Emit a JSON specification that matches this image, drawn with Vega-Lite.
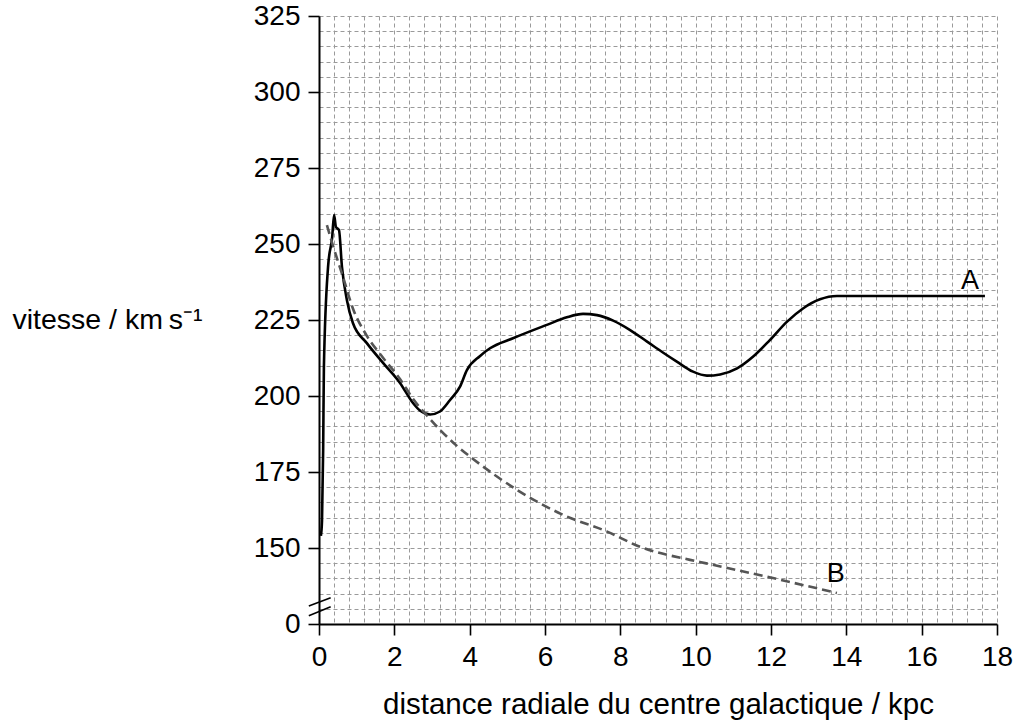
{
  "$schema": "https://vega.github.io/schema/vega-lite/v6.json",
  "width": 678,
  "height": 608,
  "autosize": {"type": "none"},
  "padding": {"left": 319, "top": 16, "right": 26, "bottom": 97},
  "background": "white",
  "config": {"view": {"stroke": null}, "font": "Liberation Sans"},
  "datasets": {
    "curveA": [
      {"x": 0.05, "v": 154}, {"x": 0.08, "v": 159}, {"x": 0.11, "v": 182}, {"x": 0.13, "v": 209.5},
      {"x": 0.24, "v": 242.4}, {"x": 0.35, "v": 252.3}, {"x": 0.40, "v": 259.5}, {"x": 0.45, "v": 255.6},
      {"x": 0.53, "v": 254.6}, {"x": 0.61, "v": 242.4}, {"x": 0.74, "v": 231.6}, {"x": 0.90, "v": 224},
      {"x": 1.27, "v": 217.4}, {"x": 1.70, "v": 210.9}, {"x": 2.15, "v": 204.3}, {"x": 2.50, "v": 197.6},
      {"x": 2.68, "v": 195.2}, {"x": 2.95, "v": 193.9}, {"x": 3.21, "v": 194.9}, {"x": 3.48, "v": 198.7},
      {"x": 3.74, "v": 203}, {"x": 3.93, "v": 208.6}, {"x": 4.27, "v": 213.1}, {"x": 4.54, "v": 215.7},
      {"x": 5.15, "v": 219.0}, {"x": 6.05, "v": 223.4}, {"x": 6.58, "v": 225.9}, {"x": 7.01, "v": 227.0},
      {"x": 7.38, "v": 226.6}, {"x": 7.81, "v": 224.8}, {"x": 8.26, "v": 221.7}, {"x": 8.71, "v": 217.9},
      {"x": 9.13, "v": 214.3}, {"x": 9.50, "v": 211.3}, {"x": 9.93, "v": 208.0}, {"x": 10.30, "v": 206.7},
      {"x": 10.65, "v": 207.1}, {"x": 11.10, "v": 209.1}, {"x": 11.52, "v": 212.9}, {"x": 11.97, "v": 218.4},
      {"x": 12.42, "v": 224.4}, {"x": 12.85, "v": 228.8}, {"x": 13.30, "v": 231.8}, {"x": 13.75, "v": 232.9},
      {"x": 14.36, "v": 232.9}, {"x": 17.68, "v": 232.9}
    ],
    "curveB": [
      {"x": 0.21, "v": 256.2}, {"x": 0.35, "v": 250.3}, {"x": 0.64, "v": 239.1}, {"x": 0.90, "v": 228.8},
      {"x": 1.27, "v": 219.8}, {"x": 1.70, "v": 212.6}, {"x": 2.15, "v": 205.6}, {"x": 2.50, "v": 199.0},
      {"x": 2.87, "v": 193.5}, {"x": 3.21, "v": 188.9}, {"x": 3.66, "v": 183.6}, {"x": 4.09, "v": 179.3},
      {"x": 5.26, "v": 169.1}, {"x": 6.48, "v": 160.9}, {"x": 7.65, "v": 155.4}, {"x": 8.52, "v": 150.4},
      {"x": 9.85, "v": 146.1}, {"x": 10.11, "v": 145.4}, {"x": 12.05, "v": 140.1}, {"x": 13.75, "v": 135.2}
    ],
    "breaks": [
      {"x": -0.27, "v": 130.9, "x2": 0.31, "v2": 133.6},
      {"x": -0.27, "v": 127.7, "x2": 0.31, "v2": 130.7}
    ],
    "labels": [
      {"x": 17.28, "v": 237.8, "label": "A"},
      {"x": 13.72, "v": 141.4, "label": "B"}
    ]
  },
  "resolve": {"axis": {"x": "independent", "y": "independent"}},
  "layer": [
    {
      "data": {"name": "curveA"},
      "mark": {"type": "line", "color": "black", "strokeWidth": 2.6, "interpolate": "monotone"},
      "encoding": {
        "x": {
          "field": "x", "type": "quantitative",
          "scale": {"domain": [0, 18], "nice": false, "zero": false},
          "axis": {
            "orient": "bottom", "title": null, "labels": false, "ticks": false, "domain": false,
            "grid": true, "gridColor": "#9a9a9a", "gridDash": [4, 3], "gridWidth": 1, "zindex": 0,
            "values": [0,0.4,0.8,1.2,1.6,2,2.4,2.8,3.2,3.6,4,4.4,4.8,5.2,5.6,6,6.4,6.8,7.2,7.6,8,8.4,8.8,9.2,9.6,10,10.4,10.8,11.2,11.6,12,12.4,12.8,13.2,13.6,14,14.4,14.8,15.2,15.6,16,16.4,16.8,17.2,17.6,18]
          }
        },
        "y": {
          "field": "v", "type": "quantitative",
          "scale": {"domain": [125, 325], "nice": false, "zero": false},
          "axis": {
            "orient": "left", "title": null, "labels": false, "ticks": false, "domain": false,
            "grid": true, "gridColor": "#9a9a9a", "gridDash": [4, 3], "gridWidth": 1, "zindex": 0,
            "values": [125,130,135,140,145,150,155,160,165,170,175,180,185,190,195,200,205,210,215,220,225,230,235,240,245,250,255,260,265,270,275,280,285,290,295,300,305,310,315,320,325]
          }
        }
      }
    },
    {
      "data": {"name": "curveB"},
      "mark": {"type": "line", "color": "#555555", "strokeWidth": 2.6, "strokeDash": [9, 5], "interpolate": "monotone"},
      "encoding": {
        "x": {
          "field": "x", "type": "quantitative",
          "scale": {"domain": [0, 18], "nice": false, "zero": false},
          "axis": {
            "orient": "bottom", "grid": false, "zindex": 1,
            "values": [0,2,4,6,8,10,12,14,16,18],
            "domainColor": "black", "domainWidth": 2, "tickColor": "black", "tickWidth": 1.6, "tickSize": 11,
            "labelFont": "Liberation Sans", "labelFontSize": 28, "labelColor": "black", "labelPadding": 8,
            "labelFlush": false, "labelOverlap": false,
            "title": "distance radiale du centre galactique / kpc",
            "titleFont": "Liberation Sans", "titleFontSize": 29.5, "titleFontWeight": "normal", "titleColor": "black",
            "titleX": 339, "titleY": 89, "titleBaseline": "alphabetic", "titleAlign": "center"
          }
        },
        "y": {
          "field": "v", "type": "quantitative",
          "scale": {"domain": [125, 325], "nice": false, "zero": false},
          "axis": {
            "orient": "left", "grid": false, "zindex": 1,
            "values": [125,150,175,200,225,250,275,300,325],
            "labelExpr": "datum.value == 125 ? '0' : datum.label",
            "domainColor": "black", "domainWidth": 2, "tickColor": "black", "tickWidth": 1.6, "tickSize": 11,
            "labelFont": "Liberation Sans", "labelFontSize": 28, "labelColor": "black", "labelPadding": 8,
            "labelFlush": false, "labelOverlap": false,
            "title": "vitesse / km\u2009s\u207b\u00b9",
            "titleFont": "Liberation Sans", "titleFontSize": 28.5, "titleFontWeight": "normal", "titleColor": "black",
            "titleAngle": 0, "titleX": -307, "titleY": 312, "titleAlign": "left", "titleBaseline": "alphabetic"
          }
        }
      }
    },
    {
      "data": {"name": "breaks"},
      "mark": {"type": "rule", "color": "black", "strokeWidth": 1.6},
      "encoding": {
        "x": {"field": "x", "type": "quantitative", "scale": {"domain": [0, 18], "nice": false, "zero": false}, "axis": null},
        "x2": {"field": "x2"},
        "y": {"field": "v", "type": "quantitative", "scale": {"domain": [125, 325], "nice": false, "zero": false}, "axis": null},
        "y2": {"field": "v2"}
      }
    },
    {
      "data": {"name": "labels"},
      "mark": {"type": "text", "font": "Liberation Sans", "fontSize": 27, "color": "black", "align": "center", "baseline": "middle"},
      "encoding": {
        "x": {"field": "x", "type": "quantitative", "scale": {"domain": [0, 18], "nice": false, "zero": false}, "axis": null},
        "y": {"field": "v", "type": "quantitative", "scale": {"domain": [125, 325], "nice": false, "zero": false}, "axis": null},
        "text": {"field": "label"}
      }
    }
  ]
}
